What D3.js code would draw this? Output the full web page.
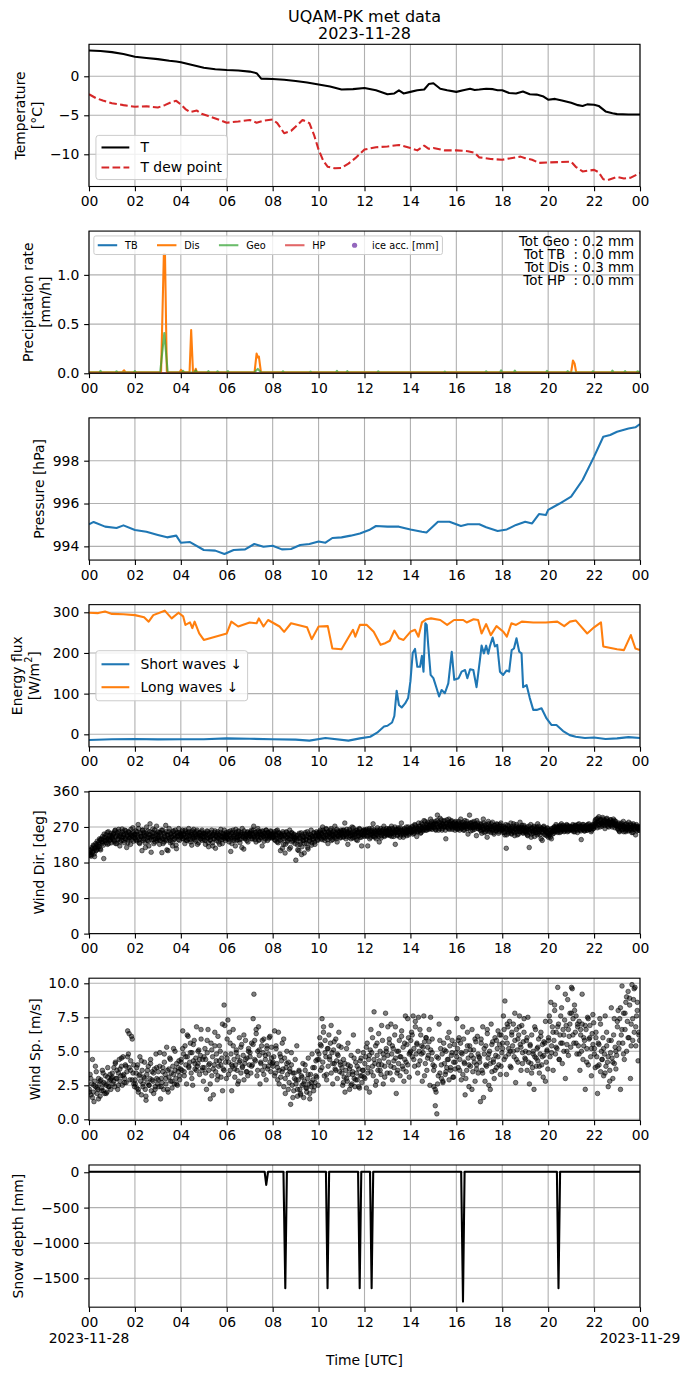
<!DOCTYPE html>
<html><head><meta charset="utf-8">
<script src="https://cdn.jsdelivr.net/npm/d3@7"></script>
<style>
body{margin:0;background:#fff;}
svg{font-family:"DejaVu Sans",sans-serif;display:block;}
</style></head><body>
<svg id="chart" width="690" height="1377"></svg>
<script>
// ---------------- DATA ----------------
const hourTicks = [0,2,4,6,8,10,12,14,16,18,20,22,24];
const hourTickLabels = ["00","02","04","06","08","10","12","14","16","18","20","22","00"];
const dateLabels = ["2023-11-28","2023-11-29"];

// Temperature [°C]
const tTimes = [0,0.5,1,1.5,2,2.5,3,3.5,3.8,4,4.5,5,5.5,6,6.5,7,7.3,7.5,8,8.5,9,9.5,10,10.5,11,11.5,12,12.5,13,13.3,13.5,13.7,14,14.3,14.6,14.8,15,15.3,15.6,16,16.3,16.6,16.8,17,17.3,17.6,17.8,18,18.3,18.6,18.9,19.2,19.5,19.8,20,20.3,20.6,21,21.3,21.5,21.7,22,22.2,22.5,22.8,23,23.5,24];
const tVals = [3.3,3.25,3.1,2.85,2.5,2.35,2.2,2.0,1.9,1.8,1.45,1.1,0.9,0.8,0.75,0.6,0.4,-0.3,-0.35,-0.45,-0.6,-0.8,-1.05,-1.3,-1.7,-1.65,-1.5,-1.8,-2.3,-2.2,-1.8,-2.2,-2.0,-1.8,-1.7,-1.0,-0.9,-1.6,-1.8,-2.0,-1.8,-1.6,-1.75,-1.7,-1.6,-1.65,-1.8,-1.8,-2.15,-2.2,-1.95,-2.3,-2.35,-2.6,-3.0,-2.9,-3.1,-3.4,-3.7,-3.8,-3.6,-3.65,-3.8,-4.5,-4.75,-4.85,-4.9,-4.9];
const tdTimes = [0,0.3,0.6,1,1.5,2,2.5,3,3.3,3.6,3.8,4,4.2,4.4,4.7,4.9,5.2,5.6,6,6.5,7,7.3,7.6,8,8.2,8.5,8.8,9.1,9.3,9.6,9.8,10,10.2,10.4,10.7,11,11.3,11.6,12,12.5,13,13.5,14,14.3,14.6,14.8,15,15.5,16,16.5,16.8,17,17.5,18,18.5,18.8,19,19.3,19.6,20,20.5,21,21.2,21.5,22,22.2,22.4,22.6,23,23.3,23.6,24];
const tdVals = [-2.3,-2.8,-3.1,-3.45,-3.7,-3.9,-3.85,-4.0,-3.7,-3.3,-3.15,-3.6,-4.2,-4.6,-4.4,-4.8,-5.1,-5.5,-5.95,-5.8,-5.6,-5.95,-5.7,-5.55,-6.0,-7.3,-7.0,-6.2,-5.6,-6.0,-7.5,-9.4,-10.8,-11.6,-11.8,-11.75,-11.2,-10.5,-9.4,-9.1,-9.0,-8.8,-9.2,-9.5,-8.9,-9.3,-9.2,-9.5,-9.5,-9.6,-9.8,-10.4,-10.6,-10.7,-10.45,-10.3,-10.5,-10.7,-11.1,-11.05,-11.0,-10.95,-11.6,-12.2,-12.0,-12.3,-13.2,-13.3,-12.9,-13.1,-13.0,-12.4];

// Precipitation rate [mm/h]
const tbTimes = [0,24];
const tbVals = [0,0];
const hpTimes = [0,24];
const hpVals = [0,0];
const disTimes = [0,1.45,1.53,1.6,3.14,3.26,3.31,3.39,3.95,4.01,4.07,4.38,4.45,4.53,4.6,4.65,4.7,7.21,7.3,7.36,7.4,7.49,21.0,21.08,21.15,21.22,24];
const disVals = [0.01,0.01,0.03,0.01,0.01,1.21,1.21,0.01,0.01,0.035,0.01,0.01,0.44,0.01,0.01,0.045,0.01,0.01,0.2,0.16,0.17,0.01,0.01,0.13,0.1,0.01,0.01];
const geoTimes = [0,0.45,0.5,0.55,1.15,1.2,1.25,1.95,2.0,2.05,
  2.9,3.1,3.28,3.43,3.6,4.05,4.1,4.15,4.6,4.65,
  4.7,5.15,5.2,5.25,5.55,5.6,5.65,6.0,6.05,6.1,
  7.2,7.35,7.5,8.4,8.45,8.5,9.6,9.65,9.7,10.75,
  10.8,10.85,11.2,11.25,11.3,12.55,12.6,12.65,15.45,15.5,
  15.55,17.25,17.3,17.35,17.9,17.95,18.0,18.5,18.55,18.6,
  19.9,19.95,20.0,20.8,20.85,20.9,21.9,21.95,22.0,22.75,
  22.8,22.85,23.3,23.35,23.4,23.85,23.9,24];
const geoVals = [0.008,0.008,0.025,0.008,0.008,0.02,0.008,0.008,0.022,0.008,
  0.008,0.008,0.41,0.008,0.008,0.008,0.025,0.008,0.008,0.03,
  0.008,0.008,0.022,0.008,0.008,0.02,0.008,0.008,0.022,0.008,
  0.008,0.045,0.008,0.008,0.02,0.008,0.008,0.018,0.008,0.008,
  0.025,0.008,0.008,0.022,0.008,0.008,0.02,0.008,0.008,0.018,
  0.008,0.008,0.02,0.008,0.008,0.03,0.008,0.008,0.028,0.008,
  0.008,0.025,0.008,0.008,0.022,0.008,0.008,0.02,0.008,0.008,
  0.028,0.008,0.008,0.022,0.008,0.008,0.02,0.008];
const iceTimes = [];
const iceVals = [];
const totLabels = ["Tot Geo : 0.2 mm","Tot TB  : 0.0 mm","Tot Dis : 0.3 mm","Tot HP  : 0.0 mm"];

// Pressure [hPa]
const pTimes = [0,0.2,0.7,1.2,1.5,2,2.5,3,3.4,3.8,4,4.4,5,5.5,5.9,6.3,6.8,7.2,7.6,8,8.4,8.8,9.2,9.6,10,10.3,10.6,11,11.4,11.8,12.2,12.5,13,13.5,14,14.5,14.7,15.2,15.7,16.2,16.5,17,17.3,17.8,18.2,18.6,19,19.3,19.6,19.9,20,20.5,21,21.5,22,22.4,22.7,23,23.5,23.8,24];
const pVals = [995.03,995.14,994.92,994.86,994.98,994.76,994.68,994.53,994.42,994.5,994.17,994.2,993.83,993.8,993.64,993.83,993.86,994.11,993.98,994.03,993.86,993.88,994.06,994.11,994.23,994.17,994.39,994.42,994.5,994.6,994.76,994.95,994.92,994.92,994.79,994.68,994.65,995.15,995.15,994.95,995.03,995.03,994.89,994.72,994.79,995.0,995.15,995.07,995.51,995.46,995.7,996.0,996.32,997.1,998.19,999.12,999.2,999.35,999.5,999.56,999.71];

// Energy flux [W/m2]
const swTimes = [0,1,2,3,4,5,6,7,8,9,9.6,10.3,11.3,11.8,12.25,12.55,12.85,13.0,13.2,13.3,13.4,13.5,13.62,13.77,13.9,14.0,14.1,14.2,14.3,14.42,14.5,14.57,14.65,14.71,14.78,14.88,15.0,15.12,15.25,15.36,15.5,15.65,15.8,15.91,16.1,16.23,16.38,16.48,16.6,16.74,16.88,17.03,17.1,17.2,17.3,17.39,17.46,17.58,17.68,17.78,17.9,18.04,18.19,18.3,18.41,18.51,18.62,18.74,18.84,18.91,19.06,19.2,19.35,19.5,19.71,19.93,20.14,20.36,20.65,20.94,21.2,21.6,22,22.5,23,23.5,24];
const swVals = [-14,-12,-11.5,-12.5,-12,-12,-10,-11,-12,-13,-15.5,-9,-15.5,-10,-6,4,19,21,29,45,107,72,66,76,89,130,200,210,166,166,193,154,273,269,216,146,138,117,93,109,101,125,203,134,138,154,158,138,160,158,116,184,218,199,218,198,216,238,216,220,154,146,157,154,207,211,236,203,199,116,121,89,60,60,64,39,23,23,8,-2,-6,-9,-8,-11.5,-10,-7,-9];
const lwTimes = [0,0.4,0.7,1,1.5,2,2.4,2.6,2.8,3.3,3.6,3.9,4.1,4.2,4.4,4.5,4.6,4.8,5,5.5,6,6.2,6.5,7,7.3,7.4,7.6,7.8,8.3,8.5,8.8,9.5,9.7,10,10.4,10.6,11,11.5,11.6,11.8,12.1,12.4,12.7,12.9,13.1,13.3,13.5,13.7,14,14.2,14.35,14.5,14.7,14.9,15.3,15.6,15.9,16.3,16.45,16.75,16.95,17.1,17.3,17.5,17.75,18.05,18.2,18.4,18.6,18.85,19.35,19.9,20.4,20.7,20.95,21.2,21.7,22,22.3,22.4,23,23.3,23.6,23.8,24];
const lwVals = [299,298,302,296,295,293,288,277,293,304,285,299,290,269,275,261,277,248,232,240,248,277,265,275,273,285,265,281,265,252,273,263,234,265,266,211,209,257,240,269,269,252,220,224,230,255,236,232,252,257,240,275,283,285,281,269,281,281,275,283,281,248,271,244,266,252,240,273,269,277,275,275,277,266,277,280,248,263,275,216,209,207,244,211,207];

// Wind direction [deg], one row per hour (set A)
const windDirByHour = [
 [205,198,212,200,215,208,222,195,218,210,225,214,230,220,236,212,240,228,232,190,244,235,250,238,226,258,242,236,248,230],
 [248,238,255,232,262,245,228,250,240,258,222,247,236,265,244,252,230,241,260,218,249,237,256,243,226,253,246,268,234,250],
 [242,260,235,250,276,238,228,255,246,210,262,240,252,230,248,270,236,244,222,258,250,206,245,265,238,254,232,248,272,241],
 [250,238,226,256,244,205,262,240,232,252,274,236,248,210,258,242,230,254,246,222,260,238,250,244,215,256,248,266,236,252],
 [254,246,262,240,250,228,258,244,236,256,266,248,238,252,224,260,246,242,256,234,250,262,244,230,254,248,240,258,236,252],
 [238,252,226,248,260,242,220,254,236,246,262,230,250,240,256,216,248,244,258,232,250,238,264,246,228,254,242,250,236,256],
 [250,240,258,232,246,208,254,242,262,236,250,222,256,244,238,260,248,230,252,240,266,246,214,254,242,250,236,258,244,252],
 [254,246,262,240,250,272,244,256,232,252,248,260,238,256,244,250,222,258,246,254,240,262,250,236,256,248,244,260,252,242],
 [252,244,258,236,250,242,262,230,254,246,210,250,238,258,226,248,204,244,256,232,250,240,262,218,246,254,236,250,242,228],
 [186,240,225,250,210,244,232,255,220,246,236,204,252,240,228,258,214,244,236,250,262,230,246,240,254,226,248,258,238,250],
 [256,248,262,240,252,270,244,258,236,250,264,246,228,256,252,242,266,248,238,258,250,272,244,254,232,260,248,256,242,262],
 [258,250,244,262,280,252,246,258,226,254,264,248,240,256,250,268,244,258,252,238,262,256,248,266,244,254,222,258,250,262],
 [254,262,248,258,222,256,266,250,244,260,252,278,246,258,254,240,262,250,258,232,256,266,248,260,254,272,246,258,262,250],
 [260,252,266,248,258,272,254,262,246,258,226,264,256,250,268,258,244,262,280,254,260,250,266,256,262,248,258,270,254,262],
 [262,256,270,252,264,258,274,260,246,266,258,272,262,254,280,268,260,272,264,284,270,262,278,268,274,266,290,272,264,280],
 [276,268,284,262,278,300,270,282,266,274,288,262,278,270,286,272,240,280,268,276,290,264,278,284,272,268,280,274,262,284],
 [278,266,274,284,262,272,280,268,276,262,274,286,270,266,278,252,272,300,268,280,274,262,270,284,268,276,248,272,280,266],
 [272,262,278,254,268,290,264,274,258,270,244,266,278,262,272,256,270,282,264,252,274,266,260,276,268,254,272,262,280,266],
 [264,256,272,250,266,216,262,274,254,268,260,280,252,266,258,272,248,264,276,258,268,252,266,282,258,270,262,254,274,260],
 [262,254,270,248,264,218,260,276,252,266,258,272,246,262,256,270,278,254,264,250,268,258,236,264,272,252,262,256,248,266],
 [244,256,250,262,240,258,266,254,270,262,276,258,268,264,272,256,270,278,262,268,274,260,270,264,276,258,272,266,262,270],
 [270,262,276,258,268,274,264,272,256,270,278,262,268,238,272,264,276,260,270,266,274,262,268,278,264,272,258,270,276,266],
 [272,284,278,290,268,282,296,276,288,280,272,294,278,286,266,282,290,276,284,270,280,288,274,282,276,290,278,268,284,276],
 [272,264,280,258,270,276,262,274,284,266,272,258,278,264,270,282,262,274,266,256,272,278,264,270,250,276,266,272,262,268]
];
// Wind direction [deg], one row per hour (set B, in-between samples)
const windDirByHourB = [
 [200,210,196,218,206,224,202,216,228,212,234,220,226,240,215,238,232,246,224,252,236,244,230,256,240,228,248,238,254,244],
 [242,252,236,260,228,248,256,238,264,246,232,252,244,258,236,250,262,240,254,246,230,258,242,250,264,238,248,256,244,252],
 [250,238,258,244,266,230,252,246,240,262,236,256,248,218,254,242,260,234,250,278,244,238,256,246,228,262,240,252,236,258],
 [244,256,236,250,262,240,228,254,246,238,258,212,250,242,266,236,252,244,232,258,248,240,262,224,254,246,238,256,244,250],
 [248,258,240,252,244,262,236,254,248,240,258,246,232,256,250,242,264,238,252,246,258,226,250,244,256,240,248,262,246,254],
 [246,236,254,242,258,230,250,244,238,256,248,222,252,240,260,246,236,254,242,250,226,256,244,238,252,246,262,240,250,244],
 [244,254,238,250,260,242,228,256,246,240,252,264,236,250,244,258,238,248,256,218,252,244,260,240,250,246,256,232,248,254],
 [248,258,240,252,262,246,238,256,250,244,266,236,252,258,242,250,260,246,234,254,248,262,244,256,240,252,248,258,244,250],
 [246,254,238,250,260,232,248,256,242,236,252,246,216,254,240,250,226,258,244,236,252,214,248,240,256,232,246,252,238,244],
 [236,248,212,242,254,226,240,200,250,236,244,228,256,238,246,218,252,234,242,250,224,246,238,256,232,248,242,254,236,246],
 [250,258,244,254,238,262,248,256,242,266,250,238,258,246,254,262,236,252,248,260,244,256,240,264,250,246,258,252,244,256],
 [254,262,246,258,250,240,264,252,256,244,260,248,254,270,242,258,250,246,262,254,236,258,248,264,252,244,258,250,262,246],
 [258,250,264,246,256,262,240,258,252,266,248,256,262,244,258,250,268,254,246,262,256,242,260,252,264,248,258,254,266,250],
 [256,264,250,262,254,246,266,258,252,270,256,262,248,264,258,254,268,250,262,256,244,264,258,252,270,256,262,250,266,258],
 [266,258,272,262,254,276,264,270,258,266,280,262,272,256,268,276,264,286,270,262,276,268,282,264,272,278,266,284,270,276],
 [270,280,264,276,286,270,262,278,292,272,280,266,276,284,270,262,278,288,272,266,282,276,270,286,264,278,272,282,268,276],
 [272,264,280,268,276,290,266,274,282,270,262,278,272,284,266,276,270,280,260,274,282,268,276,264,278,272,286,266,274,270],
 [268,276,260,272,264,280,256,270,276,262,268,284,258,272,266,278,262,270,256,274,268,262,278,264,270,258,276,266,272,262],
 [262,270,256,268,276,250,264,258,272,262,266,254,270,260,278,256,266,262,272,250,264,270,258,268,262,274,256,266,270,258],
 [258,266,250,262,272,256,264,244,268,260,254,270,262,256,266,250,264,272,258,262,240,266,256,270,262,250,264,258,268,254],
 [250,262,244,256,266,252,260,270,258,264,272,262,256,268,262,274,258,266,272,264,258,270,266,262,274,268,260,272,264,268],
 [266,272,262,270,258,274,266,262,276,268,264,272,260,270,276,264,268,260,272,266,262,276,270,264,272,268,262,274,266,270],
 [278,288,272,282,292,276,284,270,288,280,276,290,282,274,286,278,292,272,284,280,276,288,282,270,284,278,286,274,280,272],
 [266,276,260,272,268,280,264,272,258,270,276,262,268,274,260,270,266,278,262,270,256,274,268,264,272,260,270,266,262,270]
];

// Wind speed [m/s], one row per hour (set A)
const windSpdByHour = [
 [2.2,3.3,1.8,2.6,4.4,2.0,1.3,2.8,2.4,3.5,1.9,2.2,3.0,2.6,1.7,2.9,2.3,3.6,2.1,2.7,1.9,3.2,2.5,2.0,3.8,2.4,2.8,3.3,2.2,3.0],
 [3.1,2.6,3.8,2.4,4.2,3.0,3.6,2.2,3.4,4.4,2.8,3.2,3.9,2.5,4.6,3.3,3.0,4.0,2.7,3.5,6.5,4.8,3.8,2.9,4.3,6.1,5.9,3.4,2.6,2.4],
 [2.6,3.4,2.3,4.0,2.0,3.2,4.6,2.8,1.8,3.6,2.4,3.1,4.2,2.2,1.4,3.3,2.7,3.9,2.5,3.0,4.4,2.1,3.5,2.8,1.9,3.7,2.4,4.8,3.0,2.6],
 [3.5,2.4,4.9,1.5,3.0,2.7,3.8,2.2,4.2,3.3,2.6,5.3,3.6,2.0,3.1,4.5,2.8,3.4,2.3,3.9,5.2,2.6,3.6,3.0,4.1,2.5,3.5,4.3,2.9,3.7],
 [4.4,3.6,6.5,4.8,3.2,5.4,4.0,2.6,4.6,6.1,3.8,4.2,5.6,3.4,4.9,2.5,4.3,5.8,3.7,4.5,6.8,3.9,4.1,5.1,3.3,4.7,5.9,3.6,4.4,2.8],
 [3.8,5.2,4.4,2.2,4.9,6.6,3.6,4.1,1.5,5.6,3.2,4.6,1.8,4.0,5.4,3.5,4.8,2.9,6.1,3.9,4.3,5.0,3.1,4.5,2.1,3.7,8.4,6.9,4.2,3.0],
 [5.9,7.3,4.2,6.4,3.6,4.8,2.1,3.9,5.4,4.4,3.1,4.0,5.1,3.6,4.6,2.8,6.0,4.3,3.4,5.5,3.9,4.7,2.9,4.1,5.8,3.5,4.5,3.2,5.2,4.0],
 [4.6,3.4,5.6,4.0,7.4,9.2,5.8,4.3,6.3,3.2,5.0,6.8,4.7,2.6,4.1,5.4,3.6,4.9,5.9,3.9,4.4,2.9,5.2,3.7,4.8,6.0,4.2,3.5,5.3,4.1],
 [3.9,4.6,6.5,3.4,5.2,4.1,2.9,6.4,3.6,4.8,3.1,4.3,5.6,3.7,2.4,4.5,1.9,3.8,5.0,3.3,4.2,2.7,3.5,1.1,4.0,2.5,3.4,2.1,3.0,4.4],
 [2.6,5.4,1.7,2.9,3.5,2.2,1.9,3.2,2.5,4.1,1.6,2.8,3.6,2.3,2.0,3.0,4.5,2.6,1.5,3.3,2.4,4.8,2.9,2.1,3.8,2.7,4.3,3.1,5.0,2.5],
 [4.8,6.0,3.6,5.4,7.4,4.2,6.8,3.2,5.8,4.6,2.9,5.2,3.9,6.2,4.4,5.6,3.4,4.9,2.6,5.1,4.1,3.7,5.9,4.3,3.0,4.7,6.4,3.5,4.0,5.3],
 [3.8,2.5,4.4,3.1,2.0,3.6,5.2,2.8,4.0,3.3,2.2,3.9,4.7,2.6,3.5,6.2,3.0,2.4,4.2,3.4,2.9,5.0,3.7,2.3,3.2,4.5,2.7,3.6,4.9,3.1],
 [3.0,4.6,2.3,5.6,3.8,4.4,2.0,5.1,3.5,4.9,6.0,3.2,7.9,4.1,5.4,2.8,4.7,3.6,6.3,4.3,5.0,3.3,4.0,5.8,2.6,4.5,3.9,7.8,5.2,3.4],
 [6.8,4.2,5.6,3.4,7.0,4.8,2.9,5.2,3.8,6.2,4.5,1.9,5.0,3.6,4.1,5.8,3.2,4.6,6.5,3.9,5.3,2.8,4.4,7.6,3.5,5.5,4.0,6.0,3.1,4.9],
 [5.8,6.4,4.6,7.6,5.2,3.9,6.8,4.8,5.6,3.4,7.5,5.0,4.3,6.2,5.4,2.8,4.9,7.6,5.7,4.1,6.0,3.6,5.3,4.7,6.6,2.5,5.1,4.4,5.9,4.0],
 [2.4,3.9,1.0,2.0,0.4,2.6,4.5,7.0,3.4,5.2,3.0,4.8,2.7,5.6,4.1,3.3,5.0,3.8,6.0,4.4,2.9,5.4,3.6,4.7,5.8,3.1,4.2,5.5,3.7,4.9],
 [7.4,5.2,3.8,6.0,4.4,5.6,2.9,4.8,3.3,5.9,4.1,1.8,5.0,3.6,6.4,4.5,2.4,5.4,3.9,4.7,6.6,3.5,5.1,4.2,2.8,5.7,4.0,6.1,3.4,4.6],
 [4.2,1.3,5.6,3.6,6.8,1.6,4.8,2.8,5.4,3.9,6.3,4.5,2.5,5.0,4.1,7.0,3.5,5.7,4.4,3.0,6.0,4.7,3.8,5.2,6.5,4.0,5.5,3.3,6.2,4.9],
 [5.2,7.6,4.4,8.7,6.0,3.3,5.6,6.8,4.8,7.2,5.0,3.8,6.4,5.4,7.0,4.6,5.8,2.7,6.6,5.1,4.2,6.2,7.6,5.5,3.6,6.9,4.9,5.7,7.4,4.5],
 [4.4,5.8,3.6,7.5,4.9,2.6,5.4,4.1,6.2,3.8,5.0,2.2,4.6,6.6,3.9,5.2,4.3,5.9,3.4,4.8,6.4,4.0,5.5,3.1,4.7,5.6,7.2,4.2,5.1,3.7],
 [6.0,7.6,4.6,8.6,5.4,6.8,3.6,5.8,8.0,4.8,6.4,5.2,9.7,7.0,4.4,6.2,5.6,8.2,4.1,6.6,5.0,7.3,3.0,6.9,5.5,8.8,4.7,6.1,7.8,5.3],
 [9.7,9.6,7.4,5.6,8.0,6.4,7.6,4.8,6.8,5.4,7.2,3.6,6.2,5.0,7.0,4.4,6.0,5.8,2.2,6.6,5.2,7.5,4.0,5.9,6.9,4.6,3.2,6.3,5.5,7.1],
 [5.2,3.8,6.4,4.6,1.9,5.6,4.0,7.4,3.5,5.0,4.4,6.0,3.2,4.8,7.6,3.9,5.4,4.2,2.4,5.8,3.6,4.9,8.2,4.5,3.0,6.2,4.1,5.3,3.7,4.7],
 [6.8,8.0,5.2,7.4,2.2,6.2,9.8,5.6,7.8,4.4,6.6,8.6,5.0,7.2,9.4,6.0,8.4,3.0,7.0,9.9,5.8,8.8,6.4,9.7,5.4,7.6,8.6,4.3,6.2,5.8]
];
// Wind speed [m/s], one row per hour (set B, in-between samples)
const windSpdByHourB = [
 [2.0,3.0,1.6,2.5,3.9,2.3,1.5,2.8,2.1,3.4,2.6,1.9,3.1,2.4,2.9],
 [3.4,2.8,4.1,3.0,2.5,3.7,4.5,3.2,2.7,3.9,4.6,6.3,3.6,2.9,4.0],
 [2.9,3.8,2.2,3.3,4.3,2.6,3.0,1.7,3.6,2.5,4.1,2.9,3.4,2.2,3.8],
 [2.9,3.9,2.4,3.5,4.8,3.0,2.2,3.7,4.4,2.8,3.3,5.0,2.6,3.8,3.2],
 [4.2,5.2,3.5,4.6,6.2,3.9,4.9,3.0,5.5,4.1,3.6,5.0,4.4,6.6,3.8],
 [4.6,3.4,5.8,4.0,2.6,5.1,3.7,6.4,4.3,3.2,5.4,4.0,7.0,3.6,4.8],
 [4.5,3.3,5.6,4.0,6.6,3.7,4.9,2.6,4.2,5.3,3.8,6.2,4.4,3.5,5.0],
 [4.9,3.9,5.5,4.4,6.6,3.6,5.1,4.2,5.8,3.3,4.7,5.4,3.9,6.1,4.5],
 [4.2,3.2,5.4,3.8,2.6,4.6,3.5,5.9,3.0,4.1,2.2,3.7,4.9,1.6,3.4],
 [2.9,2.2,3.6,1.8,3.1,2.6,4.0,2.3,3.3,1.9,2.7,3.8,2.4,3.2,4.4],
 [4.4,5.5,3.8,6.4,4.9,3.3,5.2,4.6,6.9,4.1,5.7,3.6,4.8,5.4,4.2],
 [3.4,2.7,4.1,3.0,5.6,3.7,2.5,3.3,4.5,2.9,3.9,2.4,4.3,3.2,3.6],
 [4.1,5.3,3.4,4.7,6.6,3.9,4.4,2.5,5.6,4.0,3.6,6.9,4.8,3.1,5.0],
 [4.7,5.9,3.9,5.4,4.3,6.8,3.4,5.0,4.6,6.1,3.7,5.6,4.2,7.4,4.8],
 [5.0,6.2,4.4,7.2,5.5,4.0,6.6,4.8,5.3,3.2,6.0,4.5,5.7,7.5,4.9],
 [3.6,2.2,4.6,3.2,5.8,4.0,2.8,5.1,3.5,4.4,6.4,3.8,4.9,3.1,4.2],
 [4.6,5.8,3.6,4.9,6.8,4.2,3.0,5.4,4.0,5.1,2.2,4.5,5.9,3.7,4.8],
 [4.5,5.9,3.4,5.2,4.0,6.6,4.8,2.2,5.5,4.2,3.6,5.8,4.6,6.2,3.9],
 [5.6,6.6,4.6,7.0,5.2,3.9,6.2,5.0,7.8,4.4,5.9,6.8,5.3,4.1,6.4],
 [5.0,6.0,4.2,5.5,3.4,4.8,6.8,4.5,5.3,3.9,6.1,4.6,5.7,2.8,5.0],
 [5.8,7.2,4.9,6.4,8.4,5.3,6.8,4.4,7.6,5.6,6.2,9.2,5.0,6.6,7.0],
 [7.8,6.2,8.4,5.6,7.0,4.8,6.6,9.2,5.4,6.9,4.2,7.4,6.0,5.2,7.7],
 [4.8,6.0,3.9,5.5,7.0,4.4,5.2,3.4,6.4,4.6,2.8,5.8,4.2,7.4,5.0],
 [7.2,5.6,8.2,6.6,4.8,7.8,9.0,6.0,8.9,5.4,7.4,9.6,6.8,8.0,6.4]
];

// Snow depth [mm]
const snowTimes = [0,7.65,7.72,7.8,8.47,8.55,8.62,10.32,10.39,10.46,11.72,11.79,11.86,12.24,12.31,12.38,16.21,16.29,16.36,20.38,20.45,20.52,24];
const snowVals = [8,8,-180,8,8,-1640,8,8,-1640,8,8,-1640,8,8,-1640,8,8,-1830,8,8,-1640,8,8];

// ---------------- DRAWING ----------------
const svg = d3.select("#chart");
const defs = svg.append("defs");
const FS = 13.9;
const X0 = 89, X1 = 640, TOP0 = 44.3, STEP = 186.78, PH = 142.2;
const TICK = 4.86;
const x = d3.scaleLinear().domain([0, 24]).range([X0, X1]);
const minusFmt = d => (d < 0 ? "\u2212" : "") + Math.abs(d);
const fix1 = d => d.toFixed(1);

function panel(i, domain, ticks, fmt, ylab, ylabX) {
  const top = TOP0 + i * STEP, bot = top + PH;
  const y = d3.scaleLinear().domain(domain).range([bot, top]);
  defs.append("clipPath").attr("id", "clip" + i)
    .append("rect").attr("x", X0).attr("y", top).attr("width", X1 - X0).attr("height", PH);
  const root = svg.append("g");
  const grid = root.append("g");
  const data = root.append("g").attr("clip-path", `url(#clip${i})`);
  const frame = root.append("g");
  grid.selectAll("line.v").data(hourTicks).join("line").attr("class", "v")
    .attr("x1", d => x(d)).attr("x2", d => x(d)).attr("y1", top).attr("y2", bot)
    .attr("stroke", "#b0b0b0").attr("stroke-width", 1.1);
  grid.selectAll("line.h").data(ticks).join("line").attr("class", "h")
    .attr("x1", X0).attr("x2", X1).attr("y1", d => y(d)).attr("y2", d => y(d))
    .attr("stroke", "#b0b0b0").attr("stroke-width", 1.1);
  frame.append("rect").attr("x", X0).attr("y", top).attr("width", X1 - X0).attr("height", PH)
    .attr("fill", "none").attr("stroke", "#000").attr("stroke-width", 1.1);
  const ax = frame.append("g").attr("transform", `translate(0,${bot})`)
    .call(d3.axisBottom(x).tickValues(hourTicks).tickFormat((d, j) => hourTickLabels[j])
      .tickSize(TICK).tickPadding(TICK).tickSizeOuter(0));
  const ay = frame.append("g").attr("transform", `translate(${X0},0)`)
    .call(d3.axisLeft(y).tickValues(ticks).tickFormat(fmt).tickSize(TICK).tickPadding(TICK).tickSizeOuter(0));
  [ax, ay].forEach(a => {
    a.attr("font-family", null).attr("font-size", FS);
    a.select(".domain").remove();
    a.selectAll("line").attr("stroke", "#000").attr("stroke-width", 1.1);
    a.selectAll("text").attr("fill", "#000");
  });
  ylab.forEach((line, k) => {
    const t = frame.append("text")
      .attr("transform", `translate(${ylabX[k]},${(top + bot) / 2}) rotate(-90)`)
      .attr("text-anchor", "middle").attr("dominant-baseline", "central")
      .attr("font-size", FS).attr("fill", "#000");
    if (typeof line === "string") t.text(line);
    else line.forEach(seg => {
      const ts = t.append("tspan").text(seg.t);
      if (seg.sup) ts.attr("font-size", FS * 0.7).attr("baseline-shift", "super");
    });
  });
  return { top, bot, y, data, frame };
}

function drawLine(p, times, vals, color, opts = {}) {
  const line = d3.line().x(d => x(d[0])).y(d => p.y(d[1]));
  p.data.append("path").datum(d3.zip(times, vals))
    .attr("d", line).attr("fill", "none").attr("stroke", color)
    .attr("stroke-width", opts.width || 2.08).attr("stroke-linejoin", "round")
    .attr("stroke-opacity", opts.opacity || 1)
    .attr("stroke-dasharray", opts.dash || null);
}

function drawScatter(p, byHour, phase) {
  const pts = [];
  byHour.forEach((row, h) => row.forEach((v, j) => pts.push([h + (j + phase) / row.length, v])));
  p.data.append("g").selectAll("circle").data(pts).join("circle")
    .attr("cx", d => x(d[0])).attr("cy", d => p.y(d[1])).attr("r", 2.3)
    .attr("fill", "#000").attr("fill-opacity", 0.5)
    .attr("stroke", "#000").attr("stroke-opacity", 0.5).attr("stroke-width", 1);
}

function legend(p, entries, o) {
  const fs = o.fs, bp = 0.4 * fs, hl = 2 * fs, htp = 0.8 * fs, ls = 0.5 * fs, cs = 2 * fs, pad = 0.5 * fs;
  const g = p.frame.append("g");
  const box = g.append("rect");
  const texts = entries.map(e => g.append("text").attr("font-size", fs).attr("fill", "#000")
    .attr("dominant-baseline", "central").text(e.label));
  const widths = texts.map(t => t.node().getComputedTextLength());
  const n = entries.length, rowH = o.rowH;
  let w, h;
  if (o.horizontal) {
    w = 2 * bp + d3.sum(widths) + n * (hl + htp) + (n - 1) * cs;
    h = 2 * bp + rowH;
  } else {
    w = 2 * bp + hl + htp + d3.max(widths);
    h = 2 * bp + n * rowH + (n - 1) * ls;
  }
  const left = X0 + pad;
  let top;
  if (o.loc === "upper") top = p.top + pad;
  else if (o.loc === "lower") top = p.bot - pad - h;
  else top = (p.top + p.bot) / 2 - h / 2;
  box.attr("x", left).attr("y", top).attr("width", w).attr("height", h)
    .attr("rx", 0.2 * fs).attr("fill", "#fff").attr("fill-opacity", 0.8)
    .attr("stroke", "#cccccc").attr("stroke-width", 1);
  let cx = left + bp;
  entries.forEach((e, k) => {
    const cy = o.horizontal ? top + bp + rowH / 2 : top + bp + k * (rowH + ls) + rowH / 2;
    const hx = o.horizontal ? cx : left + bp;
    if (e.type === "dot") {
      g.append("circle").attr("cx", hx + hl / 2).attr("cy", cy).attr("r", 2.6).attr("fill", e.color);
    } else {
      g.append("line").attr("x1", hx).attr("x2", hx + hl).attr("y1", cy).attr("y2", cy)
        .attr("stroke", e.color).attr("stroke-width", 2.08).attr("stroke-opacity", e.opacity || 1)
        .attr("stroke-dasharray", e.dash || null);
    }
    texts[k].attr("x", hx + hl + htp).attr("y", cy);
    if (o.horizontal) cx = hx + hl + htp + widths[k] + cs;
  });
}

// Title
svg.append("text").attr("x", (X0 + X1) / 2).attr("y", 16.5).attr("text-anchor", "middle")
  .attr("dominant-baseline", "central").attr("font-size", 16).text("UQAM-PK met data");
svg.append("text").attr("x", (X0 + X1) / 2).attr("y", 33.5).attr("text-anchor", "middle")
  .attr("dominant-baseline", "central").attr("font-size", 16).text("2023-11-28");

// 1. Temperature
const p1 = panel(0, [-14.13, 4.1], [-10, -5, 0], minusFmt, ["Temperature", "[°C]"], [19.8, 37.4]);
drawLine(p1, tTimes, tVals, "#000");
drawLine(p1, tdTimes, tdVals, "#d62728", { dash: "7.7,3.3" });
legend(p1, [{ label: "T", color: "#000" }, { label: "T dew point", color: "#d62728", dash: "7.7,3.3" }],
  { fs: FS, loc: "lower", rowH: 13.05 });

// 2. Precipitation
const p2 = panel(1, [0, 1.445], [0, 0.5, 1.0], fix1, ["Precipitation rate", "[mm/h]"], [27.5, 44.5]);
drawLine(p2, tbTimes, tbVals, "#1f77b4");
drawLine(p2, disTimes, disVals, "#ff7f0e");
drawLine(p2, geoTimes, geoVals, "#2ca02c", { opacity: 0.7 });
drawLine(p2, hpTimes, hpVals, "#d62728", { opacity: 0.7 });
p2.data.append("g").selectAll("circle").data(d3.zip(iceTimes, iceVals)).join("circle")
  .attr("cx", d => x(d[0])).attr("cy", d => p2.y(d[1])).attr("r", 2.6).attr("fill", "#9467bd");
legend(p2, [
  { label: "TB", color: "#1f77b4" }, { label: "Dis", color: "#ff7f0e" },
  { label: "Geo", color: "#2ca02c", opacity: 0.7 }, { label: "HP", color: "#d62728", opacity: 0.7 },
  { label: "ice acc. [mm]", color: "#9467bd", type: "dot" }],
  { fs: 9.72, loc: "upper", rowH: 10.8, horizontal: true });
totLabels.forEach((s, k) => {
  p2.frame.append("text").attr("x", 634).attr("y", 245.5 + k * 13.3).attr("text-anchor", "end")
    .attr("xml:space", "preserve")
    .attr("font-size", 13.4).attr("fill", "#000").style("white-space", "pre").text(s);
});

// 3. Pressure
const p3 = panel(2, [993.36, 1000.0], [994, 996, 998], d => d, ["Pressure [hPa]"], [38.5]);
drawLine(p3, pTimes, pVals, "#1f77b4");

// 4. Energy flux
const p4 = panel(3, [-30.8, 318.8], [0, 100, 200, 300], d => d,
  ["Energy flux", [{ t: "[W/m" }, { t: "2", sup: true }, { t: "]" }]], [16.5, 34]);
drawLine(p4, swTimes, swVals, "#1f77b4");
drawLine(p4, lwTimes, lwVals, "#ff7f0e");
legend(p4, [{ label: "Short waves \u2193", color: "#1f77b4" }, { label: "Long waves \u2193", color: "#ff7f0e" }],
  { fs: FS, loc: "center", rowH: 16 });

// 5. Wind direction
const p5 = panel(4, [0, 360], [0, 90, 180, 270, 360], d => d, ["Wind Dir. [deg]"], [38.7]);
drawScatter(p5, windDirByHour, 0.25);
drawScatter(p5, windDirByHourB, 0.75);

// 6. Wind speed
const p6 = panel(5, [-0.08, 10.375], [0, 2.5, 5, 7.5, 10], fix1, ["Wind Sp. [m/s]"], [35]);
drawScatter(p6, windSpdByHour, 0.5);
drawScatter(p6, windSpdByHourB, 0.2);

// 7. Snow depth
const p7 = panel(6, [-1909, 103], [-1500, -1000, -500, 0], minusFmt, ["Snow depth [mm]"], [17.5]);
drawLine(p7, snowTimes, snowVals, "#000");
[0, 24].forEach((h, k) => {
  p7.frame.append("text").attr("x", x(h)).attr("y", p7.bot + 2 * TICK + 16.7).attr("dy", "0.71em")
    .attr("text-anchor", "middle").attr("font-size", FS).attr("fill", "#000").text(dateLabels[k]);
});
p7.frame.append("text").attr("x", (X0 + X1) / 2).attr("y", 1360).attr("text-anchor", "middle")
  .attr("dominant-baseline", "central").attr("font-size", FS).attr("fill", "#000").text("Time [UTC]");
</script>
</body></html>
